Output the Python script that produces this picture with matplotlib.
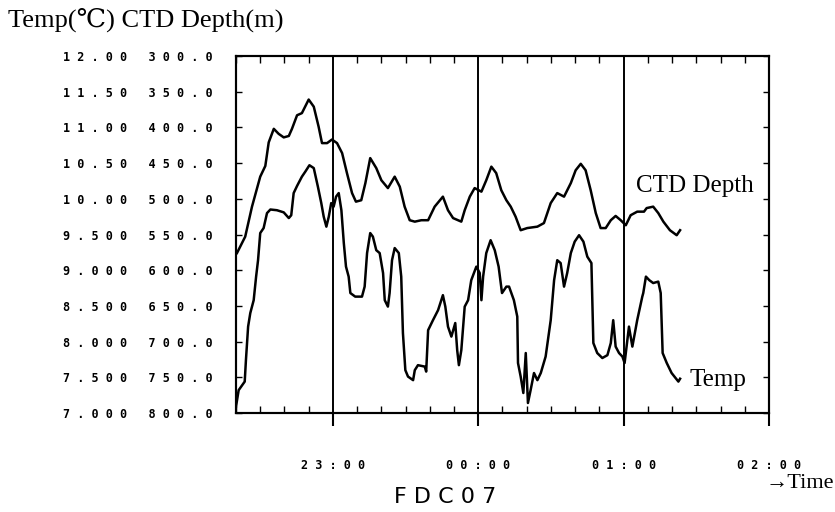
import numpy as np
import matplotlib
matplotlib.use("Agg")
import matplotlib.pyplot as plt
from matplotlib.ticker import MultipleLocator, FixedLocator

# CTD depth (m), time in minutes after 22:00
depth_t = [20.4, 23.8, 26.6, 30.0, 32.1, 33.5, 35.6, 37.6, 39.7, 41.8, 43.1, 45.2,
           47.2, 50.0, 52.1, 54.1, 55.5, 57.6, 59.6, 61.7, 63.8, 65.8, 67.9, 69.5,
           71.7, 73.4, 75.4, 77.9, 80.0, 82.7, 85.5, 87.6, 89.6, 91.7, 93.8, 96.5,
           99.3, 102.0, 105.4, 107.5, 109.6, 113.0, 114.4, 116.5, 118.5, 121.3, 123.3,
           125.4, 127.4, 129.5, 131.6, 133.4, 135.4, 137.5, 140.2, 144.4, 147.1, 149.9,
           152.6, 155.4, 158.2, 160.2, 162.3, 164.3, 166.4, 168.5, 170.5, 172.6, 174.7,
           176.7, 178.8, 180.9, 182.9, 185.6, 188.4, 189.5, 192.2, 194.3, 196.4, 199.1,
           201.9, 203.3]
depth = [576, 553, 511, 469, 454, 421, 402, 409, 414, 412, 402, 383,
         380, 361, 371, 399, 422, 422, 417, 422, 436, 464, 492, 504,
         502, 478, 443, 457, 474, 485, 469, 483, 511, 530, 532, 530,
         530, 511, 497, 516, 527, 532, 516, 497, 485, 490, 474,
         455, 464, 488, 502, 511, 525, 544, 541, 539, 534, 506,
         492, 497, 478, 460, 451, 460, 488, 520, 541, 541, 530,
         524, 530, 537, 523, 518, 518, 513, 511, 520, 532, 544,
         551, 544]

# Temperature (deg C)
temp_t = [20.0, 21.1, 23.6, 24.1, 25.0, 25.9, 27.3, 28.3, 29.1, 30.0, 31.4, 32.8,
          34.2, 36.9, 39.7, 41.8, 42.8, 43.8, 45.2, 47.2, 48.6, 50.3, 52.1, 53.8,
          55.2, 56.2, 57.3, 58.3, 59.3, 60.3, 61.3, 62.4, 63.5, 64.5, 65.4, 66.5,
          67.2, 69.2, 72.0, 73.1, 74.1, 75.4, 76.5, 77.9, 79.3, 80.7, 81.4, 82.7,
          83.4, 84.4, 85.5, 87.2, 88.2, 88.9, 89.9, 91.0, 93.1, 93.8, 95.1, 97.9,
          98.5, 99.3, 101.3, 103.4, 105.4, 106.4, 107.5, 108.9, 110.5, 111.3, 112.0,
          113.0, 114.4, 115.8, 117.1, 119.2, 120.6, 121.3, 122.0, 123.3, 125.1, 126.8,
          128.4, 129.8, 131.6, 132.7, 134.7, 136.1, 136.4, 137.5, 138.6, 139.6, 140.5,
          141.6, 143.0, 144.4, 145.8, 147.8, 149.9, 151.3, 152.6, 154.0, 155.4, 156.7,
          158.2, 159.8, 161.6, 163.4, 165.0, 166.7, 167.5, 169.1, 171.2, 173.3, 174.7,
          175.7, 176.7, 178.1, 179.5, 180.4, 182.2, 183.6, 185.6, 187.7, 188.1, 189.2,
          190.6, 192.2, 194.3, 195.3, 196.1, 197.8, 199.8, 202.6, 203.3]
temp = [7.09, 7.32, 7.44, 7.74, 8.21, 8.40, 8.58, 8.91, 9.14, 9.52, 9.59, 9.80,
        9.85, 9.84, 9.81, 9.73, 9.77, 10.08, 10.18, 10.31, 10.38, 10.47, 10.43, 10.17,
        9.94, 9.75, 9.61, 9.75, 9.94, 9.89, 10.03, 10.08, 9.84, 9.38, 9.05, 8.91,
        8.68, 8.63, 8.63, 8.77, 9.24, 9.52, 9.47, 9.28, 9.24, 8.96, 8.58, 8.49,
        8.68, 9.14, 9.31, 9.24, 8.91, 8.12, 7.60, 7.51, 7.46, 7.60, 7.67, 7.65,
        7.58, 8.16, 8.30, 8.44, 8.65, 8.49, 8.21, 8.07, 8.26, 7.88, 7.67,
        7.88, 8.49, 8.58, 8.86, 9.05, 8.96, 8.58, 8.91, 9.24, 9.42, 9.28,
        9.05, 8.68, 8.77, 8.77, 8.58, 8.35, 7.70, 7.51, 7.28, 7.84, 7.14,
        7.32, 7.56, 7.46, 7.56, 7.79, 8.30, 8.86, 9.14, 9.10, 8.77, 8.96,
        9.24, 9.40, 9.49, 9.40, 9.19, 9.10, 7.98, 7.84, 7.77, 7.81, 7.98,
        8.30, 7.93, 7.84, 7.79, 7.70, 8.21, 7.93, 8.30, 8.63, 8.68, 8.91,
        8.86, 8.82, 8.84, 8.68, 7.84, 7.70, 7.56, 7.44, 7.48]

temp_ticks = ["12.00", "11.50", "11.00", "10.50", "10.00", "9.500",
              "9.000", "8.500", "8.000", "7.500", "7.000"]
depth_ticks = ["300.0", "350.0", "400.0", "450.0", "500.0", "550.0",
               "600.0", "650.0", "700.0", "750.0", "800.0"]
hour_ticks = ["23:00", "00:00", "01:00", "02:00"]


def spaced(s):
    return " ".join(s)


W, H = 835, 512
fig = plt.figure(figsize=(W / 100, H / 100), dpi=100)
ax = fig.add_axes([236 / W, 1 - 413 / H, 533 / W, 357 / H])
ax2 = ax.twinx()

ax.plot(temp_t, temp, color="k", lw=1.8)
ax2.plot(depth_t, depth, color="k", lw=1.8)

ax.set_xlim(20, 240)
ax.set_ylim(7, 12)
ax2.set_ylim(800, 300)
ax2.set_yticks([])

mono = dict(family="DejaVu Sans Mono", weight="bold", size=8.5)

# y ticks: temp and depth labels side by side
yvals = np.linspace(12, 7, 11)
ax.set_yticks(yvals)
ax.set_yticklabels([spaced(a) + "   " + spaced(b) for a, b in zip(temp_ticks, depth_ticks)],
                   fontdict=mono)
ax.yaxis.set_ticks_position("both")
ax.tick_params(axis="y", direction="in", length=4, width=1, pad=17)

# x ticks: hours outward below, 10 min minor ticks inside
ax.xaxis.set_major_locator(FixedLocator([60, 120, 180, 240]))
ax.set_xticklabels([spaced(h) for h in hour_ticks], fontdict=mono)
ax.xaxis.set_minor_locator(MultipleLocator(10))
ax.tick_params(axis="x", which="major", direction="out", length=9, width=1.5,
               pad=24, top=False)
ax.tick_params(axis="x", which="minor", direction="in", length=5, width=1,
               top=True, bottom=True)
ax.grid(axis="x", which="major", color="k", lw=1.4)

for a in (ax, ax2):
    for sp in a.spines.values():
        sp.set_linewidth(1.5)

serif = ["Liberation Serif", "DejaVu Serif"]
fig.text(8 / W, 1 - 20 / H, "Temp(\u2103) CTD Depth(m)", family=serif, size=19,
         ha="left", va="center")
fig.text(636 / W, 1 - 186 / H, "CTD Depth", family=serif, size=18,
         ha="left", va="center")
fig.text(690 / W, 1 - 380 / H, "Temp", family=serif, size=18,
         ha="left", va="center")
fig.text(834 / W, 1 - 483 / H, "\u2192Time", family=serif, size=16,
         ha="right", va="center")
fig.text(445 / W, 1 - 497 / H, "F D C 0 7", family="DejaVu Sans", size=16,
         ha="center", va="center")

fig.savefig("out.png", dpi=100)
